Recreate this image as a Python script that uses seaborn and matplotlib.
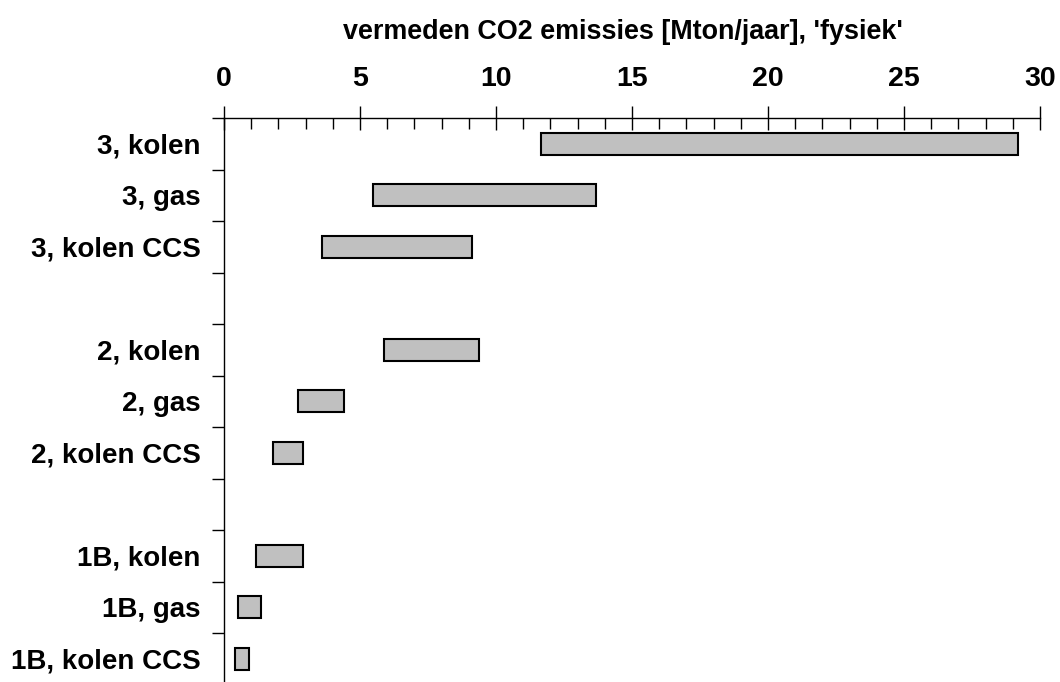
import numpy as np
import pandas as pd
import matplotlib
matplotlib.use('Agg')
import matplotlib.pyplot as plt
import seaborn as sns

# opties (begin en eind van het bereik, Mton/jaar)
opties = ['3, kolen', '3, gas', '3, kolen CCS',
          '2, kolen', '2, gas', '2, kolen CCS',
          '1B, kolen', '1B, gas', '1B, kolen CCS']
laag = [11.65, 5.48, 3.61, 5.87, 2.71, 1.81, 1.16, 0.53, 0.39]
hoog = [29.2, 13.68, 9.1, 9.36, 4.40, 2.92, 2.92, 1.37, 0.92]

# lege rijen tussen de groepen
volgorde = ['3, kolen', '3, gas', '3, kolen CCS', ' ',
            '2, kolen', '2, gas', '2, kolen CCS', '  ',
            '1B, kolen', '1B, gas', '1B, kolen CCS']

df = pd.DataFrame({'optie': opties, 'laag': laag, 'hoog': hoog})
df['breedte'] = df['hoog'] - df['laag']

sns.set_style('white')
plt.rcParams['font.family'] = ['Liberation Sans', 'DejaVu Sans']
plt.rcParams['font.weight'] = 'bold'
plt.rcParams['text.color'] = 'black'
plt.rcParams['axes.labelcolor'] = 'black'
plt.rcParams['xtick.color'] = 'black'
plt.rcParams['ytick.color'] = 'black'

fig = plt.figure(figsize=(10.6, 6.82), dpi=100)
ax = fig.add_axes([224/1060, -2.5/682, (1040-224)/1060, (682+2.5-118)/682])

sns.barplot(data=df, x='breedte', y='optie', order=volgorde, color='#c0c0c0',
            saturation=1, width=0.43, edgecolor='black', linewidth=1.5, ax=ax)

# balken laten beginnen bij de ondergrens
for p in ax.patches:
    rij = int(round(p.get_y() + p.get_height() / 2))
    naam = volgorde[rij]
    if naam in opties:
        p.set_x(laag[opties.index(naam)])

ax.set_xlim(0, 30)
ax.set_ylim(len(volgorde) - 0.5, -0.5)

ax.xaxis.tick_top()
ax.xaxis.set_label_position('top')
ax.set_xticks(np.arange(0, 31, 5))
ax.set_xticks(np.arange(0, 31, 1), minor=True)
ax.tick_params(axis='x', which='major', top=True, bottom=False, direction='inout',
               length=17, width=1, labelsize=20.5, pad=10)
ax.tick_params(axis='x', which='minor', top=True, bottom=False, direction='in',
               length=8, width=1)
for t in ax.get_xticklabels():
    t.set_fontweight('bold')

ax.set_yticks(range(len(volgorde)))
ax.set_yticklabels(volgorde, fontsize=20, fontweight='bold')
ax.set_yticks(np.arange(-0.5, len(volgorde), 1), minor=True)
ax.tick_params(axis='y', which='major', left=True, length=0, pad=17)
ax.tick_params(axis='y', which='minor', left=True, direction='out', length=9, width=1)

ax.set_xlabel("vermeden CO2 emissies [Mton/jaar], 'fysiek'", fontsize=19.4,
              fontweight='bold', labelpad=20)
ax.xaxis.label.set_x(0.489)
ax.set_ylabel('')

for s in ['right', 'bottom']:
    ax.spines[s].set_visible(False)
for s in ['top', 'left']:
    ax.spines[s].set_color('black')
    ax.spines[s].set_linewidth(1)

fig.savefig('out.png', dpi=100)
